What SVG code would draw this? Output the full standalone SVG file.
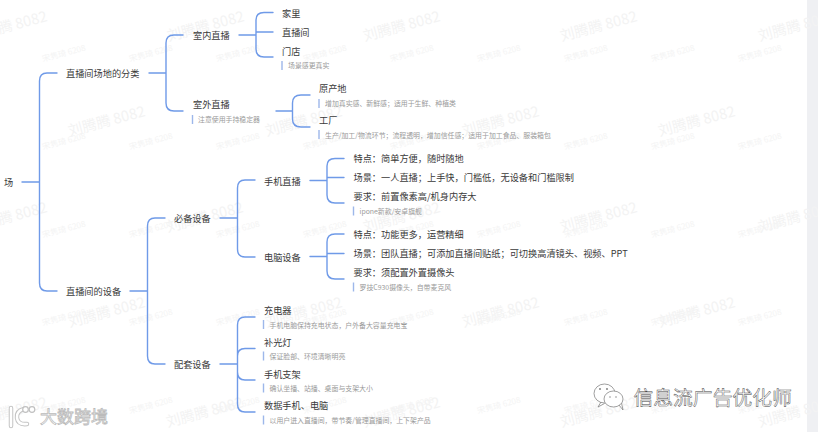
<svg xmlns="http://www.w3.org/2000/svg" width="818" height="432" viewBox="0 0 818 432">
<style>
text{font-family:"Noto Sans CJK SC","Noto Sans",sans-serif;dominant-baseline:central}
.n{font-size:9.2px;fill:#3a3a3a}
.note{font-size:6.9px;fill:#9a9a9a}
.bar{stroke:#9db7ea;stroke-width:1.4;fill:none}
.wa{font-size:14.5px;fill:#f3f3f3}
.wb{font-size:8.2px;fill:#f4f4f4}
#connectors path{fill:none;stroke:#6f9ae8;stroke-width:1.4;stroke-linecap:round}
</style>
<rect width="818" height="432" fill="#ffffff"/>
<rect x="807" y="0" width="11" height="432" fill="#eff0f3"/>
<g id="watermarks">
<text class="wa" transform="translate(-30 35) rotate(-15)">刘腾腾 8082</text>
<text class="wa" transform="translate(167 35) rotate(-15)">刘腾腾 8082</text>
<text class="wa" transform="translate(363 35) rotate(-15)">刘腾腾 8082</text>
<text class="wa" transform="translate(560 35) rotate(-15)">刘腾腾 8082</text>
<text class="wa" transform="translate(758 35) rotate(-15)">刘腾腾 8082</text>
<text class="wa" transform="translate(68 130) rotate(-15)">刘腾腾 8082</text>
<text class="wa" transform="translate(265 130) rotate(-15)">刘腾腾 8082</text>
<text class="wa" transform="translate(462 130) rotate(-15)">刘腾腾 8082</text>
<text class="wa" transform="translate(658 130) rotate(-15)">刘腾腾 8082</text>
<text class="wa" transform="translate(-30 226) rotate(-15)">刘腾腾 8082</text>
<text class="wa" transform="translate(166 226) rotate(-15)">刘腾腾 8082</text>
<text class="wa" transform="translate(363 226) rotate(-15)">刘腾腾 8082</text>
<text class="wa" transform="translate(560 226) rotate(-15)">刘腾腾 8082</text>
<text class="wa" transform="translate(758 226) rotate(-15)">刘腾腾 8082</text>
<text class="wa" transform="translate(68 321) rotate(-15)">刘腾腾 8082</text>
<text class="wa" transform="translate(265 321) rotate(-15)">刘腾腾 8082</text>
<text class="wa" transform="translate(462 321) rotate(-15)">刘腾腾 8082</text>
<text class="wa" transform="translate(658 321) rotate(-15)">刘腾腾 8082</text>
<text class="wa" transform="translate(-30 421) rotate(-15)">刘腾腾 8082</text>
<text class="wa" transform="translate(166 421) rotate(-15)">刘腾腾 8082</text>
<text class="wa" transform="translate(363 421) rotate(-15)">刘腾腾 8082</text>
<text class="wa" transform="translate(560 421) rotate(-15)">刘腾腾 8082</text>
<text class="wa" transform="translate(758 421) rotate(-15)">刘腾腾 8082</text>
<text class="wb" transform="translate(42 58) rotate(-15)">宋隽琦 6208</text>
<text class="wb" transform="translate(129 58) rotate(-15)">宋隽琦 6208</text>
<text class="wb" transform="translate(216 58) rotate(-15)">宋隽琦 6208</text>
<text class="wb" transform="translate(303 58) rotate(-15)">宋隽琦 6208</text>
<text class="wb" transform="translate(390 58) rotate(-15)">宋隽琦 6208</text>
<text class="wb" transform="translate(477 58) rotate(-15)">宋隽琦 6208</text>
<text class="wb" transform="translate(564 58) rotate(-15)">宋隽琦 6208</text>
<text class="wb" transform="translate(651 58) rotate(-15)">宋隽琦 6208</text>
<text class="wb" transform="translate(738 58) rotate(-15)">宋隽琦 6208</text>
<text class="wb" transform="translate(42 146) rotate(-15)">宋隽琦 6208</text>
<text class="wb" transform="translate(129 146) rotate(-15)">宋隽琦 6208</text>
<text class="wb" transform="translate(216 146) rotate(-15)">宋隽琦 6208</text>
<text class="wb" transform="translate(303 146) rotate(-15)">宋隽琦 6208</text>
<text class="wb" transform="translate(390 146) rotate(-15)">宋隽琦 6208</text>
<text class="wb" transform="translate(477 146) rotate(-15)">宋隽琦 6208</text>
<text class="wb" transform="translate(564 146) rotate(-15)">宋隽琦 6208</text>
<text class="wb" transform="translate(651 146) rotate(-15)">宋隽琦 6208</text>
<text class="wb" transform="translate(738 146) rotate(-15)">宋隽琦 6208</text>
<text class="wb" transform="translate(42 234) rotate(-15)">宋隽琦 6208</text>
<text class="wb" transform="translate(129 234) rotate(-15)">宋隽琦 6208</text>
<text class="wb" transform="translate(216 234) rotate(-15)">宋隽琦 6208</text>
<text class="wb" transform="translate(303 234) rotate(-15)">宋隽琦 6208</text>
<text class="wb" transform="translate(390 234) rotate(-15)">宋隽琦 6208</text>
<text class="wb" transform="translate(477 234) rotate(-15)">宋隽琦 6208</text>
<text class="wb" transform="translate(564 234) rotate(-15)">宋隽琦 6208</text>
<text class="wb" transform="translate(651 234) rotate(-15)">宋隽琦 6208</text>
<text class="wb" transform="translate(738 234) rotate(-15)">宋隽琦 6208</text>
<text class="wb" transform="translate(42 322) rotate(-15)">宋隽琦 6208</text>
<text class="wb" transform="translate(129 322) rotate(-15)">宋隽琦 6208</text>
<text class="wb" transform="translate(216 322) rotate(-15)">宋隽琦 6208</text>
<text class="wb" transform="translate(303 322) rotate(-15)">宋隽琦 6208</text>
<text class="wb" transform="translate(390 322) rotate(-15)">宋隽琦 6208</text>
<text class="wb" transform="translate(477 322) rotate(-15)">宋隽琦 6208</text>
<text class="wb" transform="translate(564 322) rotate(-15)">宋隽琦 6208</text>
<text class="wb" transform="translate(651 322) rotate(-15)">宋隽琦 6208</text>
<text class="wb" transform="translate(738 322) rotate(-15)">宋隽琦 6208</text>
<text class="wb" transform="translate(42 410) rotate(-15)">宋隽琦 6208</text>
<text class="wb" transform="translate(129 410) rotate(-15)">宋隽琦 6208</text>
<text class="wb" transform="translate(216 410) rotate(-15)">宋隽琦 6208</text>
<text class="wb" transform="translate(303 410) rotate(-15)">宋隽琦 6208</text>
<text class="wb" transform="translate(390 410) rotate(-15)">宋隽琦 6208</text>
<text class="wb" transform="translate(477 410) rotate(-15)">宋隽琦 6208</text>
<text class="wb" transform="translate(564 410) rotate(-15)">宋隽琦 6208</text>
<text class="wb" transform="translate(651 410) rotate(-15)">宋隽琦 6208</text>
<text class="wb" transform="translate(738 410) rotate(-15)">宋隽琦 6208</text>
</g>
<g id="connectors">
<path d="M22 182H39.500M57 73H47Q39.500 73 39.500 81V283Q39.500 291 47 291H57"/>
<path d="M149 73H166M183 35H174Q166 35 166 43V103Q166 111 174 111H183"/>
<path d="M239 35H256M273 12.500H264Q256 12.500 256 20V49Q256 57 264 57H273M256 32H273"/>
<path d="M276 111H292.500M310 95H301Q292.500 95 292.500 103V119Q292.500 127 301 127H310"/>
<path d="M130 291H147.500M165 218H155Q147.500 218 147.500 226V356Q147.500 364 155 364H165"/>
<path d="M220 218H237.500M255 180H245Q237.500 180 237.500 188V249Q237.500 257 245 257H255"/>
<path d="M310 180.500H327M344 158.500H335Q327 158.500 327 166V195Q327 203 335 203H344M327 177.500H344"/>
<path d="M310 256.500H327M344 234H335Q327 234 327 242V271Q327 279 335 279H344M327 253.500H344"/>
<path d="M220 364H237.500M255 317H245Q237.500 317 237.500 325V404Q237.500 412 245 412H255M237.500 356Q237.500 348.500 245 348.500H255M237.500 372Q237.500 380 245 380H255"/>
</g>
<g id="root"><text class="n" x="4" y="182">场</text></g>
<g id="n-site"><text class="n" x="66" y="73">直播间场地的分类</text></g>
<g id="n-indoor"><text class="n" x="193" y="35">室内直播</text></g>
<g id="n-home"><text class="n" x="282" y="12.500">家里</text></g>
<g id="n-room"><text class="n" x="282" y="31.500">直播间</text></g>
<g id="n-store"><text class="n" x="282" y="50.500">门店</text><path class="bar" d="M282 61V70"/><text class="note" x="288" y="65">场景感更真实</text></g>
<g id="n-outdoor"><text class="n" x="193" y="104">室外直播</text><path class="bar" d="M192.500 115V124"/><text class="note" x="198" y="119">注意使用手持稳定器</text></g>
<g id="n-origin"><text class="n" x="319" y="88">原产地</text><path class="bar" d="M319 99V108"/><text class="note" x="325" y="103">增加真实感、新鲜感；适用于生鲜、种植类</text></g>
<g id="n-factory"><text class="n" x="319" y="119.500">工厂</text><path class="bar" d="M319 130V139"/><text class="note" x="325" y="134.500">生产/加工/物流环节；流程透明，增加信任感；适用于加工食品、服装箱包</text></g>
<g id="n-equip"><text class="n" x="66" y="291">直播间的设备</text></g>
<g id="n-must"><text class="n" x="174" y="218">必备设备</text></g>
<g id="n-phone"><text class="n" x="264" y="180.500">手机直播</text></g>
<g id="n-p1"><text class="n" x="353.500" y="158">特点：简单方便，随时随地</text></g>
<g id="n-p2"><text class="n" x="353.500" y="177">场景：一人直播；上手快，门槛低，无设备和门槛限制</text></g>
<g id="n-p3"><text class="n" x="353.500" y="196">要求：前置像素高/机身内存大</text><path class="bar" d="M353.500 206.500V215.500"/><text class="note" x="359.500" y="211">ipone新款/安卓旗舰</text></g>
<g id="n-pc"><text class="n" x="264" y="256.500">电脑设备</text></g>
<g id="n-c1"><text class="n" x="353.500" y="234">特点：功能更多，运营精细</text></g>
<g id="n-c2"><text class="n" x="353.500" y="253">场景：团队直播；可添加直播间贴纸；可切换高清镜头、视频、PPT</text></g>
<g id="n-c3"><text class="n" x="353.500" y="272">要求：须配置外置摄像头</text><path class="bar" d="M353.500 282.500V291.500"/><text class="note" x="359.500" y="287">罗技C930摄像头，自带麦克风</text></g>
<g id="n-extra"><text class="n" x="174" y="364">配套设备</text></g>
<g id="n-charger"><text class="n" x="264" y="310">充电器</text><path class="bar" d="M263.500 320V329"/><text class="note" x="269.500" y="324.500">手机电脑保持充电状态，户外备大容量充电宝</text></g>
<g id="n-light"><text class="n" x="264" y="341.500">补光灯</text><path class="bar" d="M263.500 351.500V360.500"/><text class="note" x="269.500" y="356">保证脸部、环境清晰明亮</text></g>
<g id="n-stand"><text class="n" x="264" y="373.500">手机支架</text><path class="bar" d="M263.500 383.500V392.500"/><text class="note" x="269.500" y="388">确认坐播、站播、桌面与支架大小</text></g>
<g id="n-data"><text class="n" x="264" y="405">数据手机、电脑</text><path class="bar" d="M263.500 415.500V424.500"/><text class="note" x="269.500" y="420">以用户进入直播间，带节奏/管理直播间，上下架产品</text></g>
<g id="logo-left" fill="none" stroke-linecap="round">
<path d="M11 408V426M24 409Q16 411 17 418T27 424" stroke="#c4c4c4" stroke-width="4.500"/>
<path d="M11 408V426M24 409Q16 411 17 418T27 424" stroke="#fff" stroke-width="2.500"/>
<circle cx="25.500" cy="409.500" r="2.800" fill="#fff" stroke="#c0c0c0" stroke-width="1.200"/>
<circle cx="32" cy="409.500" r="2.800" fill="#fff" stroke="#c0c0c0" stroke-width="1.200"/>
<text x="40" y="415" font-size="17" fill="#fff" stroke="#bbb" stroke-width=".8">大数跨境</text>
</g>
<g id="logo-right">
<g fill="#fff" stroke="#777" stroke-width=".7">
<path d="M601 402L598 407L604.500 403.500"/>
<ellipse cx="604.500" cy="393.500" rx="10.500" ry="9.500"/>
<path d="M619 405L623 410L621.500 403"/>
<ellipse cx="613.500" cy="399" rx="9.500" ry="8"/>
</g>
<g fill="#777"><circle cx="600" cy="389" r=".9"/><circle cx="607" cy="389" r=".9"/><circle cx="610" cy="397" r=".7"/><circle cx="616" cy="397" r=".7"/></g>
<text x="633.500" y="396" font-size="19.800" fill="#fff" stroke="#444" stroke-width=".45">信息流广告优化师</text>
</g>
</svg>
